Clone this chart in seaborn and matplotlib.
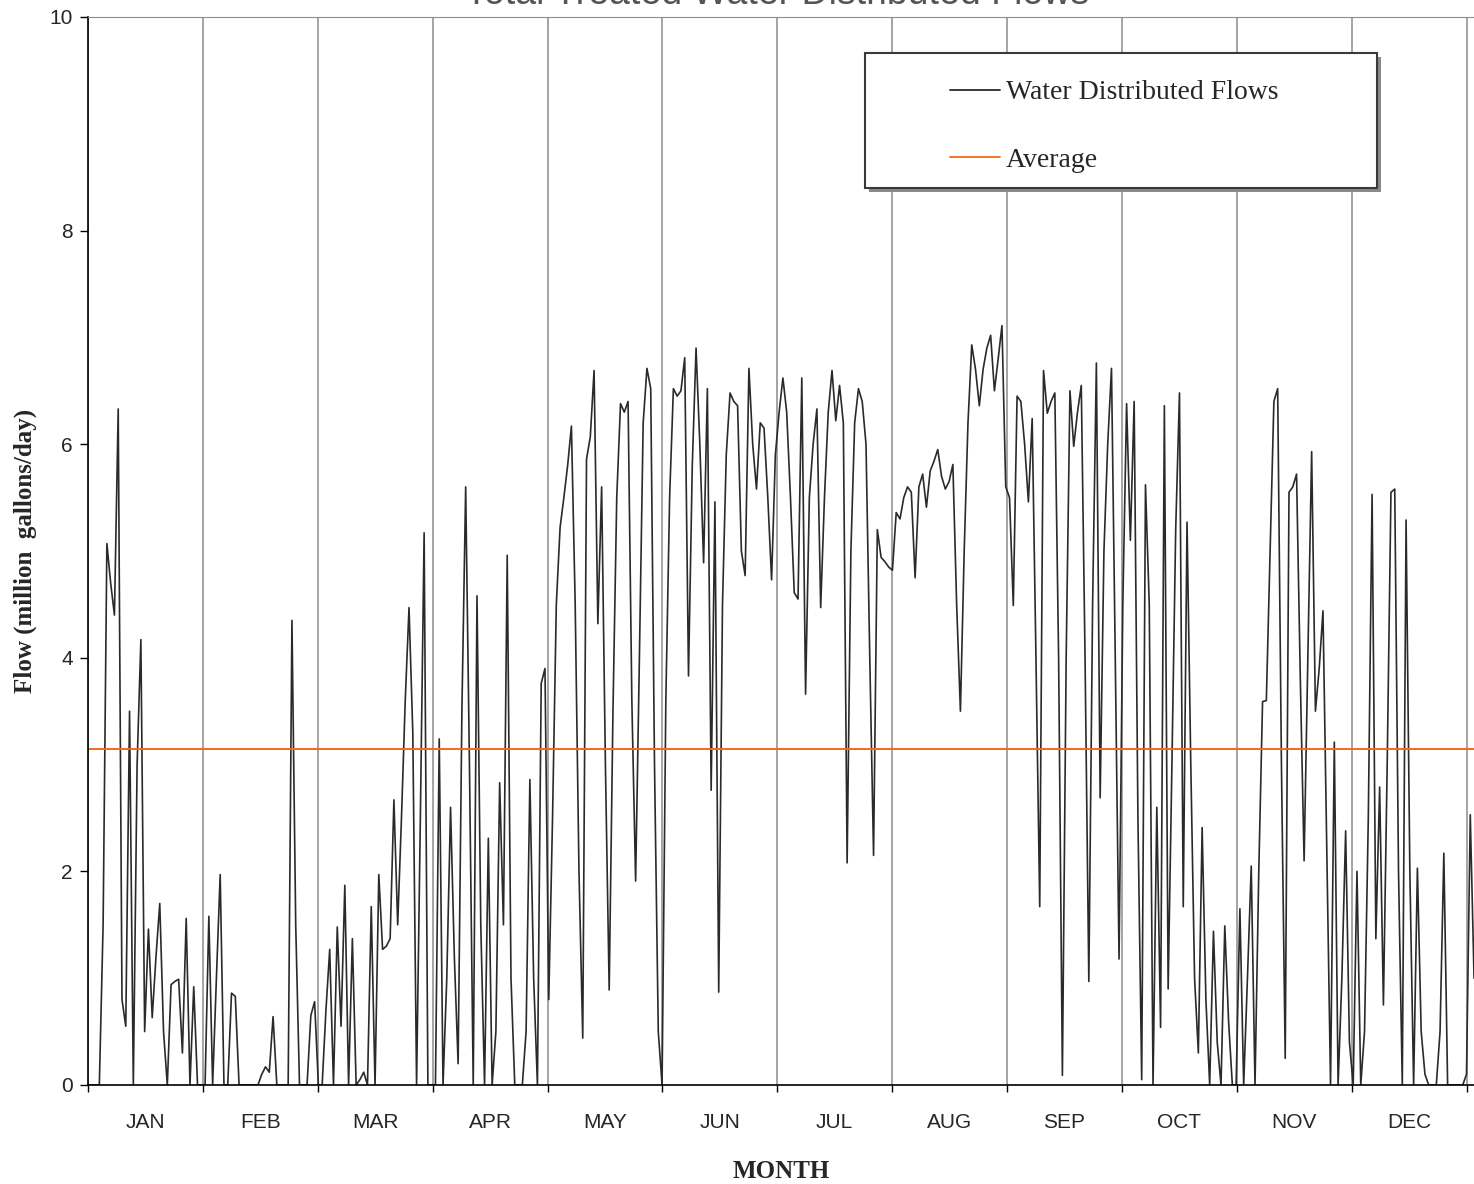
import numpy as np
import pandas as pd
import matplotlib
matplotlib.use("Agg")
import matplotlib.pyplot as plt
import matplotlib.patches as mpatches
import seaborn as sns

# ── Data: daily flows (million gallons/day) ──────────────────────────
jan = [0, 0, 0, 0, 1.5, 5.07, 4.7, 4.4, 6.33, 0.8, 0.55, 3.5, 0, 3.0, 4.17, 0.5,
       1.46, 0.63, 1.2, 1.7, 0.5, 0, 0.94, 0.97, 0.99, 0.3, 1.56, 0, 0.92, 0, 0]
feb = [0, 1.58, 0, 1.0, 1.97, 0, 0, 0.86, 0.83, 0, 0, 0, 0, 0, 0, 0.1,
       0.17, 0.12, 0.64, 0, 0, 0, 0, 4.35, 1.5, 0, 0, 0, 0.65, 0.78]
mar = [0, 0, 0.7, 1.27, 0, 1.48, 0.55, 1.87, 0, 1.37, 0, 0.05, 0.12, 0, 1.67, 0,
       1.97, 1.27, 1.3, 1.37, 2.67, 1.5, 2.5, 3.6, 4.47, 3.3, 0, 2.5, 5.17, 0, 0]
apr = [0, 3.24, 0, 1.0, 2.6, 1.2, 0.2, 3.5, 5.6, 3.0, 0, 4.58, 1.5, 0, 2.31,
       0, 0.5, 2.83, 1.5, 4.96, 1.0, 0, 0, 0, 0.5, 2.86, 1.0, 0, 3.76, 3.9]
may = [0.8, 2.5, 4.5, 5.22, 5.5, 5.8, 6.17, 4.5, 2.0, 0.44, 5.86, 6.07, 6.69, 4.32,
       5.6, 3.0, 0.89, 3.5, 5.5, 6.38, 6.3, 6.4, 3.6, 1.91, 4.0, 6.2, 6.71, 6.52,
       3.0, 0.5, 0]
jun = [3.6, 5.5, 6.52, 6.45, 6.5, 6.81, 3.83, 5.8, 6.9, 6.0, 4.89, 6.52, 2.76, 5.46,
       0.87, 4.5, 5.9, 6.48, 6.4, 6.36, 5.0, 4.77, 6.71, 6.0, 5.58, 6.2, 6.15, 5.5,
       4.73, 5.9]
jul = [6.3, 6.62, 6.3, 5.5, 4.61, 4.55, 6.62, 3.66, 5.5, 6.0, 6.33, 4.47, 5.5, 6.3,
       6.69, 6.22, 6.55, 6.2, 2.08, 5.0, 6.2, 6.52, 6.4, 6.0, 4.0, 2.15, 5.2, 4.94,
       4.9, 4.85, 4.82]
aug = [5.36, 5.3, 5.5, 5.6, 5.55, 4.75, 5.6, 5.72, 5.41, 5.75, 5.84, 5.95, 5.7, 5.58,
       5.65, 5.81, 4.5, 3.5, 5.0, 6.2, 6.93, 6.7, 6.36, 6.7, 6.9, 7.02, 6.5, 6.8,
       7.11, 5.6]
sep = [5.5, 4.49, 6.45, 6.4, 6.0, 5.46, 6.24, 4.0, 1.67, 6.69, 6.29, 6.4, 6.48, 4.0,
       0.09, 4.0, 6.5, 5.98, 6.3, 6.55, 4.0, 0.97, 4.5, 6.76, 2.69, 5.0, 6.0, 6.71,
       4.0, 1.18, 4.5]
oct_ = [6.38, 5.1, 6.4, 2.5, 0.05, 5.62, 4.5, 0.0, 2.6, 0.54, 6.36, 0.9, 3.0, 5.2,
        6.48, 1.67, 5.27, 3.0, 1.0, 0.3, 2.41, 0.8, 0, 1.44, 0.4, 0, 1.49, 0.6, 0, 0]
nov = [1.65, 0, 1.0, 2.05, 0, 2.0, 3.59, 3.6, 5.0, 6.4, 6.52, 3.0, 0.25, 5.55, 5.6,
       5.72, 3.8, 2.1, 4.0, 5.93, 3.5, 3.9, 4.44, 2.2, 0.0, 3.21, 0, 1.0, 2.38, 0.4, 0]
dec = [2.0, 0, 0.5, 2.5, 5.53, 1.37, 2.79, 0.75, 3.0, 5.55, 5.58, 2.0, 0, 5.29, 2.0,
       0, 2.03, 0.5, 0.1, 0, 0, 0, 0.5, 2.17, 0, 0, 0, 0, 0, 0.1, 2.53, 1.0]

average = 3.15
months = ["JAN", "FEB", "MAR", "APR", "MAY", "JUN",
          "JUL", "AUG", "SEP", "OCT", "NOV", "DEC"]
y_ticks = [0, 2, 4, 6, 8, 10]

flows = jan + feb + mar + apr + may + jun + jul + aug + sep + oct_ + nov + dec
df = pd.DataFrame({"day": np.arange(len(flows)), "flow": flows})

# ── Style ──────────────────────────────────────────────────────────────
sns.set_style("white")
plt.rcParams["font.family"] = ["Liberation Sans", "DejaVu Sans"]
serif = ["Liberation Serif", "DejaVu Serif"]

month_len = 365 / 12
fig = plt.figure(figsize=(14.74, 11.84), dpi=100)
ax = fig.add_axes([88 / 1474, 99 / 1184, 1386 / 1474, 1068 / 1184])

sns.lineplot(data=df, x="day", y="flow", ax=ax, color="#2a2a2a", linewidth=1.2,
             label="Water Distributed Flows")
ax.axhline(average, color="#f26a1b", linewidth=1.4, label="Average")

ax.set_xlim(0, 1386 / (1378.5 / 365))
ax.set_ylim(0, 10)

# month boundaries as major ticks (gridlines), month names centred as minor ticks
bounds = [i * month_len for i in range(13)]
centres = [(i + 0.5) * month_len for i in range(12)]
ax.set_xticks(bounds)
ax.set_xticklabels([])
ax.set_xticks(centres, minor=True)
ax.set_xticklabels(months, minor=True, fontsize=15)
ax.tick_params(axis="x", which="major", direction="out", length=5, width=1,
               color="black", bottom=True)
ax.tick_params(axis="x", which="minor", length=0, pad=20)
ax.grid(axis="x", which="major", color="#8c8c8c", linewidth=1.1)
ax.grid(axis="y", visible=False)

ax.set_yticks(y_ticks)
ax.set_yticklabels([str(v) for v in y_ticks], fontsize=15)
ax.tick_params(axis="y", direction="out", length=6, width=1, color="black",
               left=True, pad=5)

for side in ["left", "bottom"]:
    ax.spines[side].set_color("black")
    ax.spines[side].set_linewidth(1.2)
ax.spines["top"].set_color("#8c8c8c")
ax.spines["right"].set_visible(False)

ax.set_xlabel("MONTH", fontsize=18, fontweight="bold", family=serif, labelpad=20)
ax.set_ylabel("Flow (million  gallons/day)", fontsize=18, fontweight="bold",
              family=serif, labelpad=9)

# legend box with Excel-style shadow
lx0, ly0 = (865 - 88) / 1386, (1085 - 188) / 1068
lw, lh = (1377 - 865) / 1386, (188 - 53) / 1068
shadow = mpatches.Rectangle((lx0 + 4 / 1386, ly0 - 4 / 1068), lw, lh,
                            transform=ax.transAxes, facecolor="#8a8a8a",
                            edgecolor="none", zorder=5)
box = mpatches.Rectangle((lx0, ly0), lw, lh, transform=ax.transAxes,
                         facecolor="white", edgecolor="#3a3a3a",
                         linewidth=1.5, zorder=6)
ax.add_patch(shadow)
ax.add_patch(box)
leg = ax.legend(loc="upper left", bbox_to_anchor=((950 - 88) / 1386, (1085 - 80) / 1068),
                frameon=False, borderpad=0, borderaxespad=0, handlelength=1.8,
                handletextpad=0.2, labelspacing=1.5, prop={"family": serif, "size": 20})
leg.set_zorder(7)
for line in leg.get_lines():
    line.set_linewidth(1.3)

# title sits mostly above the top of the image, as in the original export
fig.text((88 + 1466) / 2 / 1474, 1 - 4 / 1184, "Total Treated Water Distributed Flows",
         ha="center", va="baseline", fontsize=27, color="#555555")

fig.savefig("out.png", dpi=100)
